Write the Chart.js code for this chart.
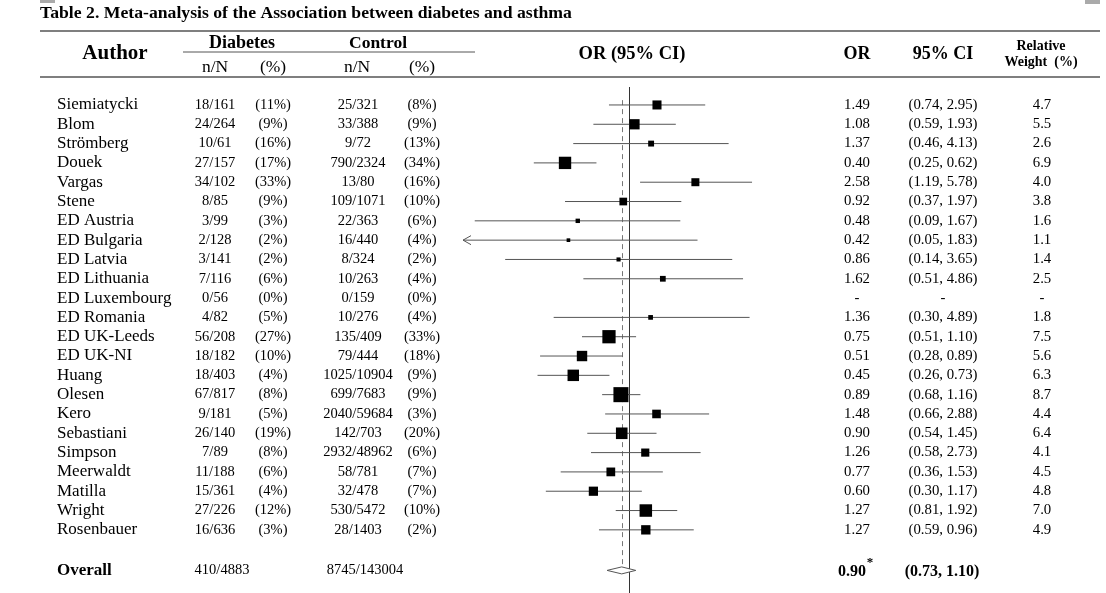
<!DOCTYPE html>
<html>
<head>
<meta charset="utf-8">
<script src="https://cdn.jsdelivr.net/npm/chart.js@4.4.1/dist/chart.umd.min.js"></script>
<style>
    html, body { margin: 0; padding: 0; background: #fff; }
    #wrap { width: 1106px; height: 593px; }
</style>
</head>
<body>
<div id="wrap"><canvas id="forestChart" width="1106" height="593"></canvas></div>
<script>
// Dữ liệu bảng
var authors = ["Siemiatycki", "Blom", "Strömberg", "Douek", "Vargas", "Stene", "ED Austria", "ED Bulgaria",
    "ED Latvia", "ED Lithuania", "ED Luxembourg", "ED Romania", "ED UK-Leeds", "ED UK-NI", "Huang", "Olesen",
    "Kero", "Sebastiani", "Simpson", "Meerwaldt", "Matilla", "Wright", "Rosenbauer"];
var diabN = ["18/161", "24/264", "10/61", "27/157", "34/102", "8/85", "3/99", "2/128", "3/141", "7/116", "0/56",
    "4/82", "56/208", "18/182", "18/403", "67/817", "9/181", "26/140", "7/89", "11/188", "15/361", "27/226", "16/636"];
var diabPct = ["(11%)", "(9%)", "(16%)", "(17%)", "(33%)", "(9%)", "(3%)", "(2%)", "(2%)", "(6%)", "(0%)", "(5%)",
    "(27%)", "(10%)", "(4%)", "(8%)", "(5%)", "(19%)", "(8%)", "(6%)", "(4%)", "(12%)", "(3%)"];
var ctrlN = ["25/321", "33/388", "9/72", "790/2324", "13/80", "109/1071", "22/363", "16/440", "8/324", "10/263",
    "0/159", "10/276", "135/409", "79/444", "1025/10904", "699/7683", "2040/59684", "142/703", "2932/48962",
    "58/781", "32/478", "530/5472", "28/1403"];
var ctrlPct = ["(8%)", "(9%)", "(13%)", "(34%)", "(16%)", "(10%)", "(6%)", "(4%)", "(2%)", "(4%)", "(0%)", "(4%)",
    "(33%)", "(18%)", "(9%)", "(9%)", "(3%)", "(20%)", "(6%)", "(7%)", "(7%)", "(10%)", "(2%)"];
var orText = ["1.49", "1.08", "1.37", "0.40", "2.58", "0.92", "0.48", "0.42", "0.86", "1.62", "-", "1.36", "0.75",
    "0.51", "0.45", "0.89", "1.48", "0.90", "1.26", "0.77", "0.60", "1.27", "1.27"];
var ciText = ["(0.74, 2.95)", "(0.59, 1.93)", "(0.46, 4.13)", "(0.25, 0.62)", "(1.19, 5.78)", "(0.37, 1.97)",
    "(0.09, 1.67)", "(0.05, 1.83)", "(0.14, 3.65)", "(0.51, 4.86)", "-", "(0.30, 4.89)", "(0.51, 1.10)",
    "(0.28, 0.89)", "(0.26, 0.73)", "(0.68, 1.16)", "(0.66, 2.88)", "(0.54, 1.45)", "(0.58, 2.73)",
    "(0.36, 1.53)", "(0.30, 1.17)", "(0.81, 1.92)", "(0.59, 0.96)"];
var weights = [4.7, 5.5, 2.6, 6.9, 4.0, 3.8, 1.6, 1.1, 1.4, 2.5, null, 1.8, 7.5, 5.6, 6.3, 8.7, 4.4, 6.4, 4.1,
    4.5, 4.8, 7.0, 4.9];

// Giá trị vẽ trên biểu đồ
var plotOr = [1.49, 1.08, 1.37, 0.40, 2.58, 0.92, 0.48, 0.42, 0.86, 1.62, null, 1.36, 0.75, 0.51, 0.45, 0.89,
    1.48, 0.90, 1.26, 0.77, 0.60, 1.27, 1.27];
var plotLow = [0.75, 0.60, 0.45, 0.256, 1.17, 0.40, 0.11, 0.05, 0.17, 0.52, null, 0.34, 0.51, 0.28, 0.27, 0.68,
    0.71, 0.55, 0.58, 0.376, 0.304, 0.826, 0.65];
var plotHigh = [2.97, 1.95, 4.15, 0.627, 5.8, 2.11, 2.08, 2.66, 4.37, 5.1, null, 5.6, 1.105, 0.91, 0.755, 1.175,
    3.14, 1.48, 2.78, 1.62, 1.20, 1.99, 2.52];

// Tổng hợp
var overallDiab = "410/4883";
var overallCtrl = "8745/143004";
var overallOr = 0.90;
var overallLow = 0.73;
var overallHigh = 1.10;
var overallOrText = "0.90";
var overallCiText = "(0.73, 1.10)";

var X_MIN = 0.093;
var X_MAX = 6.5;
var OVERALL_ROW = 24.1;

var SERIF = '"Liberation Serif", "Times New Roman", serif';

function txt(ctx, s, x, y, size, bold, align) {
    ctx.font = (bold ? "bold " : "") + size + "px " + SERIF;
    ctx.textAlign = align || "center";
    ctx.textBaseline = "middle";
    ctx.fillStyle = "#000";
    ctx.fillText(s, x, y);
}

function hline(ctx, x1, x2, y, w, color) {
    ctx.save();
    ctx.strokeStyle = color;
    ctx.lineWidth = w;
    ctx.beginPath();
    ctx.moveTo(x1, y);
    ctx.lineTo(x2, y);
    ctx.stroke();
    ctx.restore();
}

// cạnh hình vuông theo trọng số
function squareSide(w) {
    return 1.5 * w + 2;
}

// Vẽ phần bảng chữ
var tablePlugin = {
    id: "tableText",
    afterDraw: function (chart) {
        var ctx = chart.ctx;
        var ys = chart.scales.y;
        ctx.save();

        ctx.fillStyle = "#aaa";
        ctx.fillRect(40, 0, 15, 3);
        ctx.fillRect(1085, 0, 15, 4);

        txt(ctx, "Table 2. Meta-analysis of the Association between diabetes and asthma", 40, 13, 17.7, true, "left");

        hline(ctx, 40, 1100, 31, 1.5, "#555");
        hline(ctx, 183, 475, 52, 1, "#555");
        hline(ctx, 40, 1100, 77, 1.5, "#555");

        txt(ctx, "Author", 115, 54, 21, true);
        txt(ctx, "Diabetes", 242, 43, 18, true);
        txt(ctx, "Control", 378, 43, 17.5, true);
        txt(ctx, "n/N", 215, 67, 17.5, false);
        txt(ctx, "(%)", 273, 67, 17.5, false);
        txt(ctx, "n/N", 357, 67, 17.5, false);
        txt(ctx, "(%)", 422, 67, 17.5, false);
        txt(ctx, "OR (95% CI)", 632, 54, 18.5, true);
        txt(ctx, "OR", 857, 54, 18, true);
        txt(ctx, "95% CI", 943, 54, 18, true);
        txt(ctx, "Relative", 1041, 46, 14, true);
        txt(ctx, "Weight  (%)", 1041, 62, 14, true);

        authors.forEach(function (name, i) {
            var y = ys.getPixelForValue(i);
            txt(ctx, name, 57, y, 17, false, "left");
            txt(ctx, diabN[i], 215, y, 14.5, false);
            txt(ctx, diabPct[i], 273, y, 14.5, false);
            txt(ctx, ctrlN[i], 358, y, 14.5, false);
            txt(ctx, ctrlPct[i], 422, y, 14.5, false);
            txt(ctx, orText[i], 857, y, 14.8, false);
            txt(ctx, ciText[i], 943, y, 14.8, false);
            txt(ctx, weights[i] == null ? "-" : weights[i].toFixed(1), 1042, y, 14.8, false);
        });

        var yo = ys.getPixelForValue(OVERALL_ROW);
        txt(ctx, "Overall", 57, yo, 17, true, "left");
        txt(ctx, overallDiab, 222, yo, 14.5, false);
        txt(ctx, overallCtrl, 365, yo, 14.5, false);
        txt(ctx, overallOrText, 852, yo + 1, 16, true);
        txt(ctx, "*", 870, yo - 8, 13, true);
        txt(ctx, overallCiText, 942, yo + 1, 16, true);

        ctx.restore();
    },
};

// Đường tham chiếu, hình thoi, mũi tên
var forestPlugin = {
    id: "forestExtras",
    beforeDatasetsDraw: function (chart) {
        var ctx = chart.ctx;
        var xs = chart.scales.x;
        var ys = chart.scales.y;
        var area = chart.chartArea;
        ctx.save();
        var x1 = Math.round(xs.getPixelForValue(1)) + 0.5;
        ctx.strokeStyle = "#333";
        ctx.lineWidth = 1;
        ctx.beginPath();
        ctx.moveTo(x1, area.top);
        ctx.lineTo(x1, area.bottom);
        ctx.stroke();

        var xd = Math.round(xs.getPixelForValue(overallOr)) + 0.5;
        ctx.strokeStyle = "#777";
        ctx.setLineDash([5, 4]);
        ctx.beginPath();
        ctx.moveTo(xd, ys.getPixelForValue(-0.25));
        ctx.lineTo(xd, ys.getPixelForValue(OVERALL_ROW) - 4);
        ctx.stroke();
        ctx.restore();
    },
    afterDatasetsDraw: function (chart) {
        var ctx = chart.ctx;
        var xs = chart.scales.x;
        var ys = chart.scales.y;
        var area = chart.chartArea;
        ctx.save();

        var yo = ys.getPixelForValue(OVERALL_ROW);
        ctx.fillStyle = "#fff";
        ctx.strokeStyle = "#555";
        ctx.lineWidth = 1;
        ctx.beginPath();
        ctx.moveTo(xs.getPixelForValue(overallLow), yo);
        ctx.lineTo(xs.getPixelForValue(overallOr), yo - 3.5);
        ctx.lineTo(xs.getPixelForValue(overallHigh), yo);
        ctx.lineTo(xs.getPixelForValue(overallOr), yo + 3.5);
        ctx.closePath();
        ctx.fill();
        ctx.stroke();

        // mũi tên khi khoảng tin cậy vượt trục
        ctx.strokeStyle = "#555";
        plotLow.forEach(function (lo, i) {
            if (lo != null && lo < X_MIN) {
                var y = ys.getPixelForValue(i);
                ctx.beginPath();
                ctx.moveTo(area.left + 8, y - 4.5);
                ctx.lineTo(area.left, y);
                ctx.lineTo(area.left + 8, y + 4.5);
                ctx.stroke();
            }
        });
        ctx.restore();
    },
};

var ciSets = [];
var squarePoints = [];
authors.forEach(function (name, i) {
    if (plotOr[i] == null) return;
    ciSets.push({
        type: "line",
        data: [{ x: plotLow[i], y: i }, { x: plotHigh[i], y: i }],
        borderColor: "#555",
        borderWidth: 1,
        pointRadius: 0,
        order: 1,
    });
    squarePoints.push({ x: plotOr[i], y: i, w: weights[i] });
});

var ctx = document.getElementById("forestChart").getContext("2d");
new Chart(ctx, {
    type: "scatter",
    data: {
        datasets: [
            {
                label: "OR",
                data: squarePoints,
                pointStyle: "rect",
                backgroundColor: "#000",
                borderWidth: 0,
                pointRadius: function (c) {
                    return squareSide(c.raw.w) * Math.SQRT1_2;
                },
                order: -1,
            },
        ].concat(ciSets),
    },
    options: {
        responsive: false,
        animation: false,
        events: [],
        layout: {
            autoPadding: false,
            padding: { left: 463, right: 346, top: 87, bottom: 0 },
        },
        plugins: {
            legend: { display: false },
            tooltip: { enabled: false },
        },
        scales: {
            x: { type: "logarithmic", min: X_MIN, max: X_MAX, display: false },
            y: { type: "linear", reverse: true, min: -0.93, max: 25.27, display: false },
        },
    },
    plugins: [forestPlugin, tablePlugin],
});
</script>
</body>
</html>
